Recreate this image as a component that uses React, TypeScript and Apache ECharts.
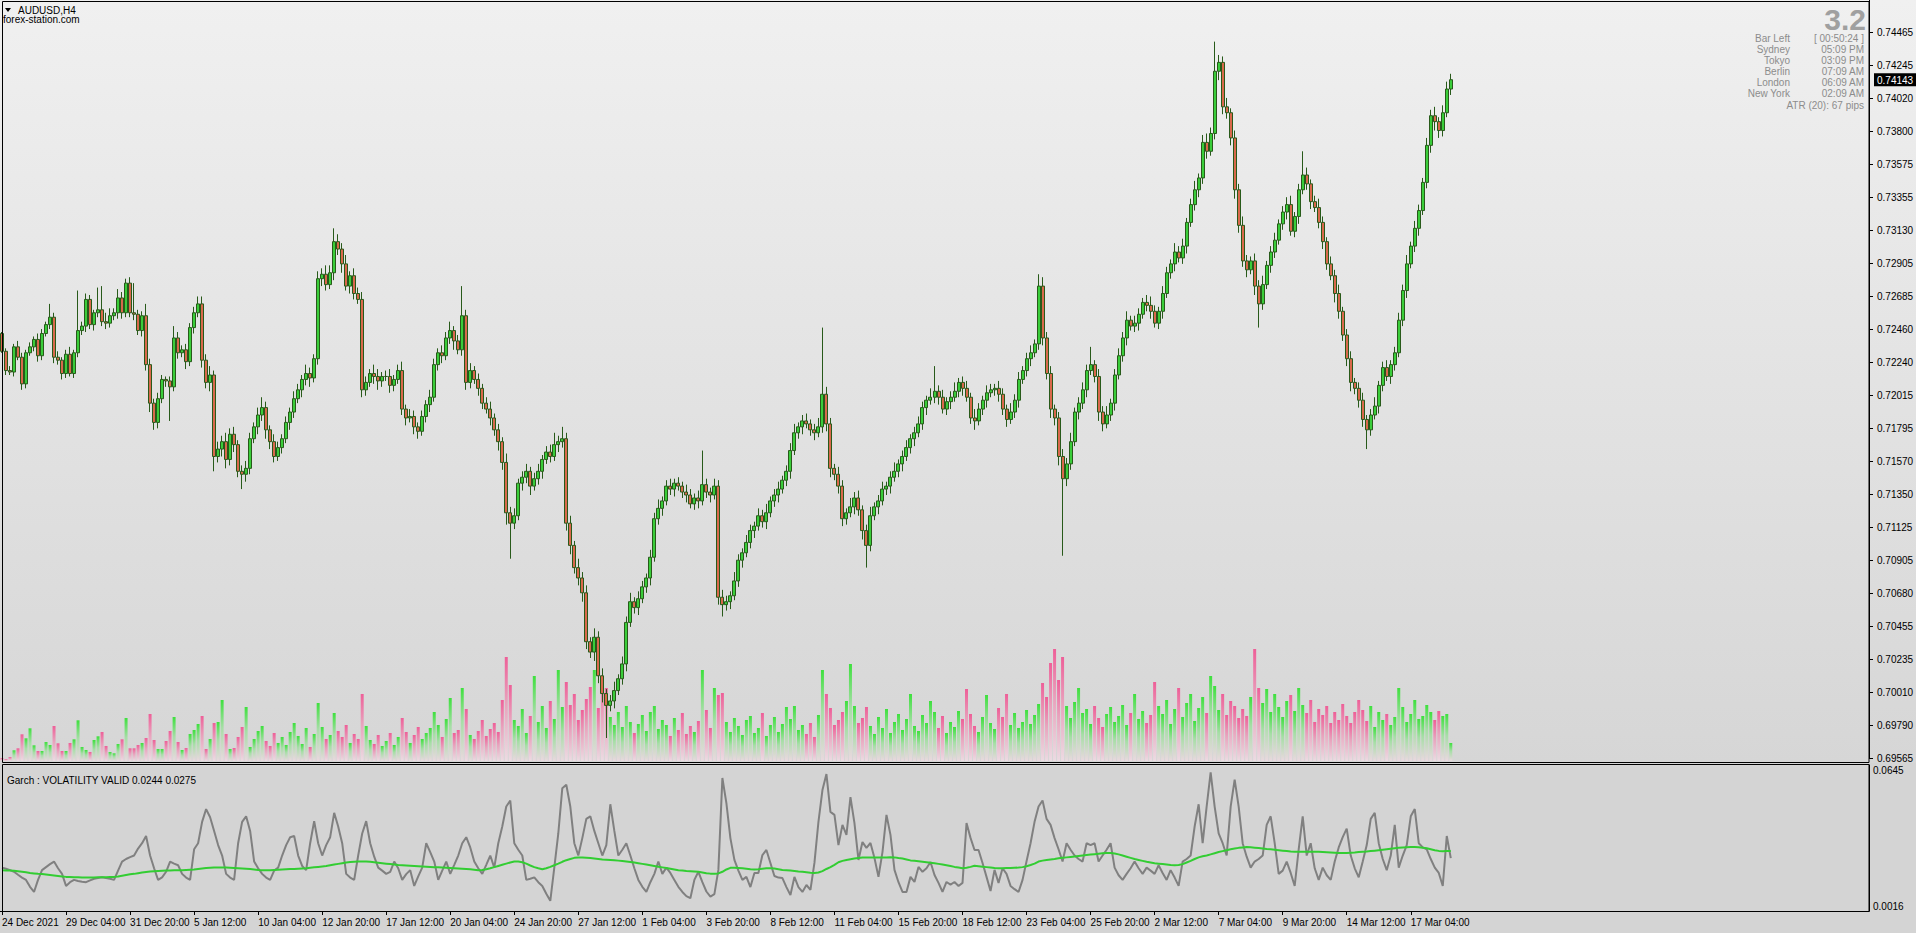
import React, { useEffect, useRef } from "react";
import * as echarts from "echarts";

// ---------- data ----------
const TIME_LABELS = ["24 Dec 2021","29 Dec 04:00","31 Dec 20:00","5 Jan 12:00","10 Jan 04:00","12 Jan 20:00","17 Jan 12:00","20 Jan 04:00","24 Jan 20:00","27 Jan 12:00","1 Feb 04:00","3 Feb 20:00","8 Feb 12:00","11 Feb 04:00","15 Feb 20:00","18 Feb 12:00","23 Feb 04:00","25 Feb 20:00","2 Mar 12:00","7 Mar 04:00","9 Mar 20:00","14 Mar 12:00","17 Mar 04:00"];
const LABEL_EVERY = 16; // one time label every 16 H4 bars
const TOTAL_SLOTS = 467; // bars + right chart shift

const PRICE_LABELS = ["0.69565","0.69790","0.70010","0.70235","0.70455","0.70680","0.70905","0.71125","0.71350","0.71570","0.71795","0.72015","0.72240","0.72460","0.72685","0.72905","0.73130","0.73355","0.73575","0.73800","0.74020","0.74245","0.74465"];
const PRICE_MIN = 0.69565;
const PRICE_MAX = 0.74465;

const GARCH_MIN = 0.0016;
const GARCH_MAX = 0.0645;

// prices in pips (x 0.0001); open of each bar = previous close
const FIRST_OPEN = 7243;
const CLOSE = [
7231,7218,7217,7234,7227,7209,7230,7234,7239,7228,
7243,7249,7254,7227,7225,7216,7229,7216,7230,7245,
7248,7266,7249,7257,7259,7251,7250,7255,7257,7267,
7257,7277,7257,7256,7245,7255,7222,7196,7183,7199,
7212,7211,7207,7240,7230,7232,7224,7247,7257,7263,
7225,7210,7215,7160,7165,7170,7158,7175,7168,7150,
7148,7152,7172,7180,7188,7193,7178,7170,7160,7166,
7172,7183,7190,7199,7205,7212,7216,7213,7226,7280,
7283,7276,7284,7305,7300,7290,7275,7282,7270,7266,
7205,7210,7216,7214,7211,7214,7214,7208,7212,7218,
7192,7186,7187,7180,7177,7187,7195,7200,7222,7230,
7228,7240,7245,7238,7232,7255,7210,7218,7212,7206,
7196,7192,7186,7178,7170,7156,7122,7115,7120,7142,
7146,7150,7140,7145,7150,7158,7163,7160,7168,7170,
7172,7115,7100,7085,7078,7068,7035,7028,7038,7012,
7000,6992,6995,7002,7010,7020,7048,7062,7058,7064,
7072,7078,7092,7118,7125,7130,7140,7138,7142,7140,
7136,7134,7128,7132,7130,7141,7136,7134,7140,7065,
7060,7062,7066,7076,7090,7095,7102,7110,7113,7120,
7116,7122,7130,7134,7138,7144,7150,7164,7176,7180,
7184,7182,7178,7176,7180,7202,7182,7152,7148,7140,
7118,7122,7126,7132,7124,7110,7100,7120,7126,7130,
7138,7140,7146,7150,7155,7160,7166,7172,7176,7182,
7193,7198,7200,7204,7200,7192,7197,7200,7204,7210,
7206,7200,7186,7184,7192,7198,7203,7205,7206,7202,
7192,7185,7190,7198,7212,7218,7226,7230,7236,7275,
7240,7216,7192,7186,7160,7145,7155,7170,7190,7196,
7205,7218,7222,7214,7190,7182,7188,7196,7215,7228,
7240,7252,7248,7250,7256,7264,7262,7258,7250,7258,
7270,7284,7290,7298,7294,7302,7318,7330,7340,7348,
7372,7366,7378,7420,7426,7396,7392,7375,7340,7316,
7292,7286,7292,7275,7263,7276,7289,7298,7306,7317,
7325,7330,7312,7322,7340,7350,7344,7332,7328,7318,
7305,7290,7282,7270,7258,7242,7226,7210,7206,7198,
7185,7178,7188,7194,7208,7220,7214,7222,7230,7252,
7272,7290,7302,7314,7326,7345,7370,7390,7386,7380,
7392,7408,7414.3
];
// upper / lower wick beyond the body, pips
const UPW = [
1,2,3,2,4,3,2,3,2,4, 3,2,9,3,4,2,3,5,2,27, 3,4,3,2,15,16,6,5,3,6, 4,3,4,20,3,3,8,4,3,4,
3,2,3,8,4,3,4,3,4,5, 5,4,6,3,5,4,6,4,5,3, 4,5,4,3,5,7,4,3,5,4, 3,4,3,5,4,3,6,4,3,5,
4,6,5,9,5,4,6,3,5,4, 5,4,3,6,5,3,4,5,3,4, 6,3,5,4,3,4,3,5,4,3, 5,4,6,3,4,20,4,5,3,4,
3,4,5,3,4,3,6,4,5,3, 4,5,3,4,5,3,4,5,8,4, 8,4,5,3,6,4,5,3,6,4, 5,3,4,6,3,5,4,6,3,5,
4,3,5,4,6,3,4,5,3,4, 3,5,4,3,5,23,4,3,5,4, 5,4,3,6,4,3,5,4,3,5, 4,6,3,4,5,3,4,5,6,3,
4,5,3,4,6,45,5,4,3,5, 4,3,6,4,5,3,4,6,3,4, 5,3,4,6,3,4,5,3,4,5, 4,3,6,17,4,5,3,4,6,3,
4,5,3,6,4,3,5,4,3,5, 4,3,6,4,5,3,4,5,3,8, 6,4,5,3,4,5,4,6,3,4, 5,4,12,3,5,4,6,3,4,5,
4,6,3,5,4,3,5,6,4,3, 5,4,3,6,4,5,3,4,6,3, 5,6,4,20,5,4,6,3,5,4, 6,4,3,5,4,6,3,4,5,3,
4,5,6,3,4,16,5,3,4,6, 4,3,5,4,6,3,4,5,3,4, 5,3,4,6,3,4,5,3,4,5, 4,6,3,5,4,3,5,4,6,3,
5,5,4
];
const DNW = [
1,3,2,3,2,4,3,2,3,4, 3,2,3,4,3,4,3,2,3,3, 3,4,3,4,3,3,4,3,3,4, 4,3,3,4,3,4,4,6,5,4,
3,4,23,3,4,3,5,3,4,3, 5,4,6,10,4,5,6,4,5,4, 10,5,4,3,5,4,6,5,4,3, 4,3,5,4,3,5,4,6,3,4,
5,4,3,5,4,6,3,5,4,3, 5,4,3,5,6,4,3,5,4,3, 4,5,3,5,5,3,4,5,3,4, 5,3,4,6,3,4,5,4,3,5,
4,3,5,4,6,5,8,24,4,3, 5,4,6,3,4,5,3,4,3,5, 4,5,6,4,5,6,5,4,6,5, 6,22,4,5,3,4,5,3,4,5,
3,4,5,3,4,5,3,4,5,3, 4,5,3,4,5,3,4,5,3,5, 8,4,5,3,4,5,3,4,5,3, 4,5,3,4,5,3,4,5,3,4,
5,3,4,5,3,4,5,6,4,5, 5,4,3,5,4,6,15,4,3,5, 3,4,5,3,4,5,3,4,5,3, 4,5,3,4,5,3,4,5,3,4,
5,3,4,6,3,4,5,3,4,5, 4,5,3,4,5,3,4,5,3,4, 5,4,6,5,6,52,5,4,3,5, 4,5,3,4,6,5,3,4,5,3,
4,5,3,4,5,3,4,5,3,4, 5,3,4,5,3,4,5,3,4,5, 4,5,3,4,6,5,4,5,6,5, 4,5,3,6,16,4,3,5,4,3,
4,5,3,4,5,3,4,5,3,4, 5,4,3,6,5,4,5,6,4,5, 5,13,4,3,5,4,3,5,4,3, 4,5,3,4,5,3,4,5,6,5,
4,3,4
];
// tick volume
const VOL = [
300,200,400,1070,1270,2670,2270,3270,1570,1000,
1000,1900,1600,3500,1770,1000,1000,1800,2170,4070,
1400,1100,900,2100,2470,2900,1500,900,770,1700,
2170,4300,1270,1270,1600,1800,2300,4700,2100,1200,
1200,2000,3000,4400,1900,1100,1300,2700,3100,3700,
4500,1200,2200,3800,3900,6100,2700,1200,1300,2400,
3400,5400,1400,2200,3000,3500,2000,1500,2800,1800,
2400,1600,2900,3800,2500,1700,3300,1400,2700,5800,
3400,2200,2600,4800,3000,2400,3600,1800,2700,2200,
6700,3500,2100,1700,2600,1500,2000,2800,1600,2400,
4300,2900,1800,2600,3400,2200,2800,3300,4900,3600,
2400,4200,6300,2800,3100,7300,5200,2600,2200,3000,
4100,2500,3200,3800,2900,6100,10400,7600,4100,3500,
5200,2800,4500,8500,3900,5500,3300,6000,4200,9100,
5400,7900,5600,6700,4100,5100,6200,7400,9100,5300,
8500,7300,4400,3600,4900,3400,5500,3900,2800,3700,
4600,3000,4900,5500,3200,4100,3600,2500,4300,3100,
4800,2700,3500,2900,4000,9100,5100,3300,7300,6600,
6800,3900,2900,4300,3500,2600,4100,4500,2800,3300,
4800,2500,3600,4400,2900,3700,5400,4200,5500,3100,
3600,2700,3800,2400,4600,9100,6700,5300,3600,4100,
4900,6000,9700,5500,3800,4300,5400,3500,2700,4400,
3300,5200,2800,3900,4700,3100,4200,6700,3500,3000,
4600,3800,6000,4900,3300,4500,2800,3900,3400,5000,
4200,7200,4700,3500,2900,4400,6600,3800,3200,5300,
4400,6700,3600,4800,3300,3900,5100,3700,4600,5700,
7800,6400,9800,11200,8100,10400,5500,4300,5900,7300,
4800,5200,3700,5500,4300,3400,4700,5400,3900,4500,
5600,3600,4800,6700,4200,5000,3800,4600,7900,5500,
4700,6100,3700,5200,7300,4400,5800,6700,4000,5300,
6400,4800,8500,7500,5100,6700,4600,6000,5500,4300,
5200,4500,6400,11200,7300,5800,7200,4900,6700,5400,
4400,6000,6600,5000,7300,5600,4800,6100,3900,5200,
4600,5500,3800,4900,4100,5700,4500,3800,4900,6100,
5100,4000,5500,3400,4900,4100,4700,3600,4400,7300,
5400,3900,4700,6100,4200,4500,5600,4900,4100,5000,
4500,4700,1800
];
const VOL_AXIS_MAX = 15000;

// GARCH volatility (x 0.0001)
const GARCH = [
203,198,192,185,172,160,150,120,98,150, 192,205,218,229,200,176,124,140,150,145,
142,140,148,155,158,161,158,155,150,190, 229,240,248,255,285,308,339,255,200,150,
161,185,229,220,213,176,160,150,282,308, 400,455,420,361,300,255,176,160,150,308,
400,424,361,229,200,176,160,150,190,203, 255,300,334,339,255,210,192,308,403,308,
255,300,334,439,380,308,176,160,150,255, 350,403,308,250,203,190,176,185,229,200,
150,175,192,124,165,203,308,270,229,150, 190,229,176,215,255,308,334,290,229,200,
176,215,255,203,308,380,466,492,308,280, 255,150,155,161,140,124,90,60,203,350,
545,560,466,308,255,330,413,424,361,308, 255,300,476,361,255,280,308,255,200,150,
120,98,140,176,229,176,203,180,150,120, 98,80,71,150,185,140,100,78,89,193,
589,481,330,236,190,150,163,119,180,180, 257,279,223,167,160,158,119,85,163,119,
98,128,107,223,400,537,606,443,430,300, 387,344,507,395,236,313,288,309,244,163,
270,430,344,193,140,98,98,163,141,206, 185,200,227,171,137,98,141,130,141,124,
137,395,331,279,279,223,163,102,193,137, 200,176,124,110,98,150,230,308,400,466,
492,413,387,330,282,229,308,280,255,240, 229,308,300,308,229,255,280,308,203,170,
150,176,200,229,200,176,203,190,176,213, 180,150,192,160,124,229,240,255,380,476,
308,466,613,466,350,308,255,466,582,466, 308,250,203,229,240,255,387,424,308,176,
190,229,180,124,282,424,255,308,200,150, 203,170,150,229,290,334,371,255,200,161,
229,300,413,439,308,240,192,255,387,203, 255,300,424,455,308,290,282,240,203,180,
124,339,244
];
// GARCH signal line (x 0.0001)
const GARCH_SIG = [
192,191,190,189,187,185,183,180,178,176, 175,173,171,169,167,165,163,162,161,161,
160,160,160,160,161,161,161,162,163,165, 168,171,174,176,179,182,184,186,187,188,
189,190,191,192,192,192,193,194,195,197, 199,201,202,203,203,203,203,202,201,200,
199,198,197,195,193,192,192,192,193,194, 195,196,197,197,198,199,200,202,204,206,
208,210,213,216,219,222,225,227,228,229, 229,229,228,226,224,222,220,218,216,214,
213,212,211,210,209,208,207,206,205,204, 203,202,201,200,199,198,197,196,194,192,
193,196,200,205,210,215,220,225,229,229, 226,220,212,205,200,196,200,206,213,220,
228,235,240,245,246,246,245,244,242,240, 238,237,236,235,233,231,229,227,225,222,
219,216,213,210,207,204,201,198,195,192, 190,188,187,186,185,182,179,177,176,178,
185,195,202,202,201,200,198,196,195,196, 198,200,200,199,196,193,192,190,188,186,
185,183,181,180,182,188,197,205,215,226, 232,236,239,242,244,246,246,246,246,246,
247,247,248,247,244,242,238,234,232,230, 228,226,224,222,219,216,213,210,206,203,
200,202,206,211,209,207,205,203,201,200, 200,201,201,202,203,205,209,214,220,229,
233,236,238,240,243,245,247,249,251,253, 255,257,259,261,263,265,266,266,264,260,
255,250,245,240,236,232,228,225,222,220, 218,216,214,213,214,218,225,232,240,247,
252,255,260,265,270,274,278,282,285,288, 290,292,291,289,287,285,283,282,280,278,
276,274,272,271,271,271,271,271,271,271, 270,269,268,267,266,266,266,267,268,270,
271,272,274,276,278,280,282,284,286,288, 290,291,292,292,291,289,286,282,278,275,
273,274,275
];

const INFO_ROWS = [
  ["Bar Left", "[ 00:50:24 ]"],
  ["Sydney", "05:09 PM"],
  ["Tokyo", "03:09 PM"],
  ["Berlin", "07:09 AM"],
  ["London", "06:09 AM"],
  ["New York", "02:09 AM"],
];
const ATR_TEXT = "ATR (20): 67 pips";
const SPREAD_TEXT = "3.2";
const SYMBOL_TEXT = "AUDUSD,H4";
const SITE_TEXT = "forex-station.com";
const INDICATOR_TITLE = "Garch : VOLATILITY VALID 0.0244 0.0275";

// ---------- layout ----------
const AXIS_X = 1869; // right price axis line
const PRICE_BOTTOM_Y = 758; // pixel of lowest price label
const PRICE_STEP_PX = 33;
const FONT = '"Liberation Sans", Arial, sans-serif';

export default function App() {
  const ref = useRef<HTMLDivElement>(null);

  useEffect(() => {
    if (!ref.current) return;
    const chart = echarts.init(ref.current, undefined, { renderer: "svg" });

    const n = CLOSE.length;
    const cats = Array.from({ length: TOTAL_SLOTS }, (_, i) => String(i));
    const candles = CLOSE.map((c, i) => {
      const o = i === 0 ? FIRST_OPEN : CLOSE[i - 1];
      const hi = Math.max(o, c) + (UPW[i] ?? 3);
      const lo = Math.min(o, c) - (DNW[i] ?? 3);
      return [o / 1e4, c / 1e4, lo / 1e4, hi / 1e4];
    });
    const greenGrad = new echarts.graphic.LinearGradient(0, 0, 0, 1, [
      { offset: 0, color: "#3ee03e" },
      { offset: 0.45, color: "#a6dea6" },
      { offset: 1, color: "#ead8df" },
    ]);
    const pinkGrad = new echarts.graphic.LinearGradient(0, 0, 0, 1, [
      { offset: 0, color: "#ee5f98" },
      { offset: 0.45, color: "#e8a3bd" },
      { offset: 1, color: "#ecdbe2" },
    ]);
    const volData = VOL.map((v, i) => {
      const up = candles[i][1] >= candles[i][0];
      return { value: v, itemStyle: { color: up ? greenGrad : pinkGrad } };
    });

    const step = (PRICE_MAX - PRICE_MIN) / (PRICE_LABELS.length - 1);
    const ticksShown = PRICE_LABELS.length; // one extra step above top label
    const gridTop = PRICE_BOTTOM_Y - PRICE_STEP_PX * ticksShown;
    const priceTop = PRICE_MIN + step * ticksShown;
    const lastClose = CLOSE[n - 1] / 1e4;
    const tagStep = lastClose - PRICE_MIN; // second tick of the tag axis lands on the last close

    const infoTexts: any[] = [];
    INFO_ROWS.forEach((r, k) => {
      const y = 38 + k * 11;
      infoTexts.push({ type: "text", x: 1790, y, z: 100, style: { text: r[0], font: `10px ${FONT}`, fill: "#8c8c8c", align: "right", verticalAlign: "middle" } });
      infoTexts.push({ type: "text", x: 1864, y, z: 100, style: { text: r[1], font: `10px ${FONT}`, fill: "#8c8c8c", align: "right", verticalAlign: "middle" } });
    });

    chart.setOption({
      animation: false,
      backgroundColor: "transparent",
      grid: [
        { left: 0, top: gridTop, width: AXIS_X, height: PRICE_BOTTOM_Y - gridTop, containLabel: false, outerBoundsMode: "none" },
        { left: 0, top: 611, width: AXIS_X, height: 150, containLabel: false, outerBoundsMode: "none" },
        { left: 0, top: 765, width: AXIS_X, height: 146, containLabel: false, outerBoundsMode: "none" },
      ],
      xAxis: [
        { type: "category", gridIndex: 0, data: cats, boundaryGap: true, show: false },
        { type: "category", gridIndex: 1, data: cats, boundaryGap: true, show: false },
        {
          type: "category", gridIndex: 2, data: cats, boundaryGap: true, position: "bottom",
          axisLine: { show: true, lineStyle: { color: "#000", width: 1 } },
          axisTick: {
            show: true, alignWithLabel: true, length: 4, lineStyle: { color: "#000" },
            interval: (idx: number) => idx % LABEL_EVERY === 0 && idx / LABEL_EVERY < TIME_LABELS.length,
          },
          axisLabel: {
            show: true, color: "#000", fontSize: 10, fontFamily: FONT, align: "left", margin: 6,
            interval: (idx: number) => idx % LABEL_EVERY === 0 && idx / LABEL_EVERY < TIME_LABELS.length,
            formatter: (_v: string, idx: number) => TIME_LABELS[Math.round(idx / LABEL_EVERY)] ?? "",
          },
          splitLine: { show: false },
        },
      ],
      yAxis: [
        {
          type: "value", gridIndex: 0, position: "right", scale: true,
          min: PRICE_MIN, max: priceTop, interval: step,
          axisLine: { show: true, lineStyle: { color: "#000", width: 1 } },
          axisTick: { show: true, length: 4, lineStyle: { color: "#000" } },
          axisLabel: {
            show: true, color: "#000", fontSize: 10, fontFamily: FONT, margin: 8, showMaxLabel: false,
            formatter: (v: number) => {
              const k = Math.round((v - PRICE_MIN) / step);
              if (Math.abs(v - (PRICE_MIN + k * step)) > step * 0.01) return "";
              return k >= 0 && k < PRICE_LABELS.length ? PRICE_LABELS[k] : "";
            },
          },
          splitLine: { show: false },
        },
        { type: "value", gridIndex: 1, min: 0, max: VOL_AXIS_MAX, show: false },
        {
          type: "value", gridIndex: 2, position: "right",
          min: GARCH_MIN, max: GARCH_MAX, interval: GARCH_MAX - GARCH_MIN,
          axisLine: { show: true, lineStyle: { color: "#000", width: 1 } },
          axisTick: { show: false },
          axisLabel: {
            show: true, color: "#000", fontSize: 10, fontFamily: FONT, margin: 4,
            verticalAlignMinLabel: "bottom", verticalAlignMaxLabel: "top",
            formatter: (v: number) => v.toFixed(4),
          },
          splitLine: { show: false },
        },
        {
          // current-price tag axis: same scale as the price axis, one tick on the last close
          type: "value", gridIndex: 0, position: "right", z: 10,
          min: PRICE_MIN, max: priceTop, interval: tagStep,
          axisLine: { show: false }, axisTick: { show: false }, splitLine: { show: false },
          axisLabel: {
            show: true, margin: 5, showMinLabel: false, showMaxLabel: false,
            formatter: (v: number) => (Math.abs(v - lastClose) < 1e-7 ? `{tag|${lastClose.toFixed(5)}}` : ""),
            rich: { tag: { color: "#fff", backgroundColor: "#000", padding: [2, 3, 1, 3], fontSize: 10, fontFamily: FONT } },
          },
        },
      ],
      series: [
        {
          type: "bar", xAxisIndex: 1, yAxisIndex: 1, data: volData, barWidth: 3, silent: true,
        },
        {
          type: "candlestick", xAxisIndex: 0, yAxisIndex: 0, data: candles, barWidth: 3.5, silent: true, clip: false,
          itemStyle: { color: "#3acd3a", color0: "#d9694c", borderColor: "#285a1a", borderColor0: "#285a1a", borderWidth: 1 },
        },
        {
          type: "line", xAxisIndex: 2, yAxisIndex: 2, data: GARCH.map((v) => v / 1e4),
          showSymbol: false, symbol: "none", silent: true,
          lineStyle: { color: "#808080", width: 2 },
        },
        {
          type: "line", xAxisIndex: 2, yAxisIndex: 2, data: GARCH_SIG.map((v) => v / 1e4),
          showSymbol: false, symbol: "none", silent: true,
          lineStyle: { color: "#32cd32", width: 2 },
        },
      ],
      graphic: [
        { type: "rect", z: 100, silent: true, shape: { x: 2.5, y: 1.5, width: AXIS_X - 2.5, height: 761 }, style: { fill: "none", stroke: "#000", lineWidth: 1 } },
        { type: "rect", z: 100, silent: true, shape: { x: 2.5, y: 764.5, width: AXIS_X - 2.5, height: 147 }, style: { fill: "none", stroke: "#000", lineWidth: 1 } },
        { type: "polygon", z: 100, shape: { points: [[5, 8], [11, 8], [8, 12]] }, style: { fill: "#000" } },
        { type: "text", z: 100, x: 18, y: 10, style: { text: SYMBOL_TEXT, font: `10px ${FONT}`, fill: "#000", verticalAlign: "middle" } },
        { type: "text", z: 100, x: 3, y: 19, style: { text: SITE_TEXT, font: `10px ${FONT}`, fill: "#000", verticalAlign: "middle" } },
        { type: "text", z: 100, x: 7, y: 780, style: { text: INDICATOR_TITLE, font: `10px ${FONT}`, fill: "#000", verticalAlign: "middle" } },
        { type: "text", z: 100, x: 1866, y: 19, style: { text: SPREAD_TEXT, font: `bold 30px ${FONT}`, fill: "#a0a0a0", align: "right", verticalAlign: "middle" } },
        ...infoTexts,
        { type: "text", z: 100, x: 1864, y: 105, style: { text: ATR_TEXT, font: `10px ${FONT}`, fill: "#8c8c8c", align: "right", verticalAlign: "middle" } },
      ],
    });

    return () => chart.dispose();
  }, []);

  return (
    <div
      ref={ref}
      style={{
        position: "fixed", left: 0, top: 0, width: 1916, height: 933,
        background: "linear-gradient(to bottom, #f0f0f0 0px, #d6d6d6 763px, #d4d4d4 763px, #d4d4d4 100%)",
      }}
    />
  );
}
